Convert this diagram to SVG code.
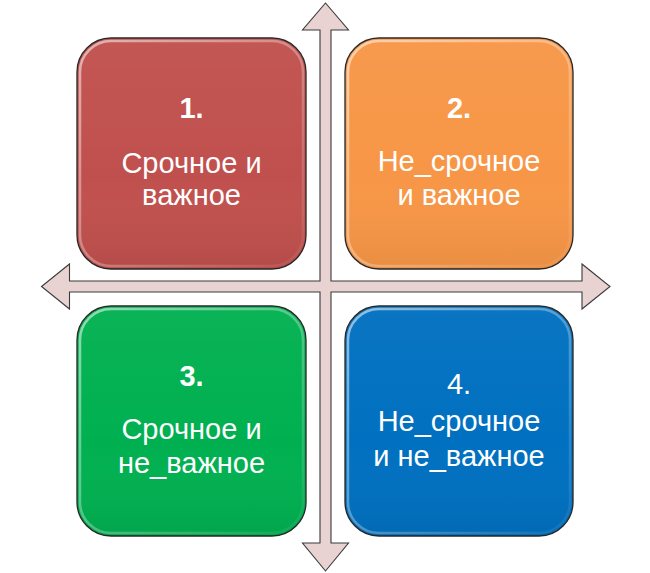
<svg xmlns="http://www.w3.org/2000/svg" width="650" height="573" viewBox="0 0 650 573">
  <defs>
    <linearGradient id="shade" x1="0" y1="0" x2="0" y2="1">
      <stop offset="0" stop-color="#ffffff" stop-opacity="0.04"/>
      <stop offset="0.6" stop-color="#ffffff" stop-opacity="0"/>
      <stop offset="1" stop-color="#000000" stop-opacity="0.06"/>
    </linearGradient>
    <linearGradient id="rim" x1="0" y1="0" x2="1" y2="1">
      <stop offset="0" stop-color="#ffffff" stop-opacity="0.55"/>
      <stop offset="0.6" stop-color="#ffffff" stop-opacity="0.25"/>
      <stop offset="1" stop-color="#ffffff" stop-opacity="0.05"/>
    </linearGradient>
  </defs>
  <style>
    .box { stroke: #262626; stroke-width: 1.3; }
    .overlay { fill: url(#shade); stroke: none; }
    .rim { fill: none; stroke: url(#rim); stroke-width: 2.5; }
    .lbl { font-family: "Liberation Sans", "Noto Sans", sans-serif; font-size: 29px; fill: #ffffff; text-anchor: middle; }
    .num { font-weight: bold; }
    .axis { fill: #e8d2d2; stroke: #3a3a3a; stroke-width: 1.1; stroke-linejoin: miter; }
  </style>
  <rect width="650" height="573" fill="#ffffff"/>

  <g id="connectors">
    <path class="axis" d="M325.5,3 L348.5,30 L331,30 L331,281 L582,281 L582,264 L610,286.5 L582,309 L582,292 L331,292 L331,543 L348.5,543 L325.5,571 L302.5,543 L320,543 L320,292 L69.5,292 L69.5,309 L41.5,286.5 L69.5,264 L69.5,281 L320,281 L320,30 L302.5,30 Z"/>
  </g>

  <g id="node1">
    <rect class="box" x="77" y="38" width="229" height="231" rx="34" fill="#c0504d"/>
    <rect class="overlay" x="77" y="38" width="229" height="231" rx="34"/>
    <rect class="rim" x="80" y="41" width="223" height="225" rx="31"/>
    <text class="lbl num" x="191.5" y="118">1.</text>
    <text class="lbl" x="191.5" y="173">Срочное и</text>
    <text class="lbl" x="191.5" y="205">важное</text>
  </g>

  <g id="node2">
    <rect class="box" x="345" y="38" width="228" height="231" rx="34" fill="#f79646"/>
    <rect class="overlay" x="345" y="38" width="228" height="231" rx="34"/>
    <rect class="rim" x="348" y="41" width="222" height="225" rx="31"/>
    <text class="lbl num" x="459" y="118">2.</text>
    <text class="lbl" x="459" y="171">Не_срочное</text>
    <text class="lbl" x="459" y="205">и важное</text>
  </g>

  <g id="node3">
    <rect class="box" x="77" y="306" width="229" height="230" rx="34" fill="#00b050"/>
    <rect class="overlay" x="77" y="306" width="229" height="230" rx="34"/>
    <rect class="rim" x="80" y="309" width="223" height="224" rx="31"/>
    <text class="lbl num" x="191.5" y="386">3.</text>
    <text class="lbl" x="191.5" y="439">Срочное и</text>
    <text class="lbl" x="191.5" y="473">не_важное</text>
  </g>

  <g id="node4">
    <rect class="box" x="345" y="306" width="228" height="230" rx="34" fill="#0070c0"/>
    <rect class="overlay" x="345" y="306" width="228" height="230" rx="34"/>
    <rect class="rim" x="348" y="309" width="222" height="224" rx="31"/>
    <text class="lbl" x="459" y="394">4.</text>
    <text class="lbl" x="459" y="431">Не_срочное</text>
    <text class="lbl" x="459" y="466">и не_важное</text>
  </g>
</svg>
